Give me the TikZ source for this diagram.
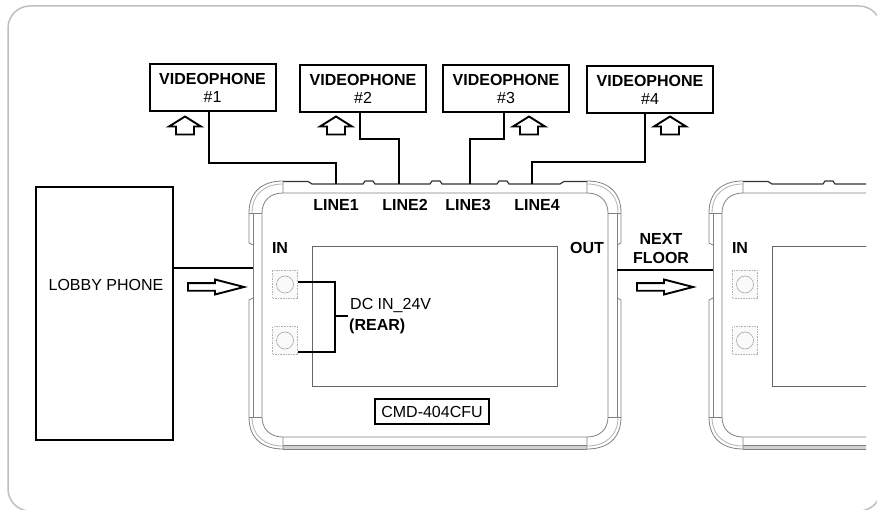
\documentclass[tikz,border=0pt]{standalone}
\usepackage{fontspec}
\setmainfont{Liberation Sans}
\usepackage{tikz}
\tikzset{
  phonebox/.style={shape=rectangle, draw=black, line width=2pt, inner sep=0pt, align=center},
  vidbox/.style={phonebox, minimum width=126pt, minimum height=47pt, font=\fontsize{16}{18}\selectfont},
  boldlabel/.style={inner sep=0pt, align=center, font=\fontsize{16}{19}\selectfont\bfseries},
  plainlabel/.style={inner sep=0pt, font=\fontsize{16}{19}\selectfont},
  wireline/.style={draw=black, line width=2pt},
  thinwire/.style={draw=black, line width=1.2pt},
  bodyline/.style={draw=black!50, line width=0.8pt},
  jackbox/.style={shape=rectangle, draw=black!30, densely dotted, line width=1.6pt, fill=black!2, inner sep=0pt, minimum width=25pt, minimum height=28pt},
  uparrow/.pic={\draw[line width=1.9pt, fill=white] (0,0) -- (16,10) -- (9,10) -- (9,18) -- (-9,18) -- (-9,10) -- (-16,10) -- cycle;},
  rightarrow/.pic={\draw[line width=1.9pt, fill=white] (0,-3.8) -- (27,-3.8) -- (27,-7.5) -- (56,0) -- (27,7.5) -- (27,3.8) -- (0,3.8) -- cycle;},
  cmdunit/.pic={
    \fill[black!18] (283,445) rectangle (587,449);
    \draw[bodyline] (283,445) -- (587,445) (283,449) -- (587,449);
    \draw[draw=black!80, line width=1.2pt] (283,181.5) -- (308,181.5) -- (312,184) -- (363,184) -- (365,181) -- (373,181) -- (375,184)
      -- (430,184) -- (432,181) -- (440,181) -- (442,184) -- (497,184) -- (499,181) -- (507,181) -- (509,184) -- (560,184) -- (564,181.5) -- (587,181.5);
    \foreach \sx/\sy in {1/1,-1/1,1/-1,-1/-1}{
      \begin{scope}[shift={(435,315)}, xscale=\sx, yscale=\sy]
        \draw[bodyline] (-186,-102) .. controls (-186,-123) and (-173,-134) .. (-152,-134) -- (-152,-122);
        \draw[bodyline, draw=black!30] (-183,-102) .. controls (-183,-121) and (-170,-131) .. (-152,-131);
        \draw[bodyline] (-173,0) -- (-173,-102) .. controls (-173,-114) and (-165,-122) .. (-152,-122) -- (0,-122);
        \draw[bodyline] (-186,-102) -- (-173,-102);
        \draw[bodyline] (-182,-102) -- (-182,0);
      \end{scope}
    }
    \foreach \sx in {1,-1}{
      \begin{scope}[shift={(435,315)}, xscale=\sx]
        \draw[bodyline] (-186,-102) -- (-186,-72) -- (-182,-70);
        \draw[bodyline] (-182,-17) -- (-186,-15) -- (-186,102);
      \end{scope}
    }
    \node[shape=rectangle, draw=black!60, line width=0.9pt, inner sep=0pt, minimum width=245pt, minimum height=140pt](screen) at (434.5, 316){};
    \node[jackbox](jackA) at (285, 284.5){};
    \node[jackbox](jackB) at (285, 340.5){};
    \draw[black!35, line width=0.6pt] (285, 284.5) circle (8.5);
    \draw[black!35, line width=0.6pt] (285, 340.5) circle (8.5);
    \node[boldlabel](inlabel) at (280, 248){IN};
  },
}

\begin{document}
\begin{tikzpicture}[x=1pt, y=-1pt]
    % Paths, nodes and wires:
    \useasboundingbox (0, 0) rectangle (877, 510);
    \draw[draw=black!25, line width=1.5pt, rounded corners=22pt] (8, 6) rectangle (881, 511);

    \node[vidbox](vp1) at (212.5, 88){\textbf{VIDEOPHONE}\\\#1};
    \node[vidbox](vp2) at (363, 89){\textbf{VIDEOPHONE}\\\#2};
    \node[vidbox](vp3) at (506, 89){\textbf{VIDEOPHONE}\\\#3};
    \node[vidbox](vp4) at (650, 89.5){\textbf{VIDEOPHONE}\\\#4};
    \pic at (185, 116.5) {uparrow};
    \pic at (336, 116.5) {uparrow};
    \pic at (529, 116.5) {uparrow};
    \pic at (670, 116.5) {uparrow};

    \node[phonebox, minimum width=136.5pt, minimum height=253pt](lobby) at (104.25, 313.5){};
    \node[plainlabel](lobbytext) at (106, 285){LOBBY PHONE};

    \pic (unitA) at (0, 0) {cmdunit};
    \begin{scope}
      \clip (700, 170) rectangle (866, 460);
      \pic (unitB) at (460, 0) {cmdunit};
    \end{scope}

    \node[boldlabel](line1) at (336, 205){LINE1};
    \node[boldlabel](line2) at (405, 205){LINE2};
    \node[boldlabel](line3) at (468, 205){LINE3};
    \node[boldlabel](line4) at (537, 205){LINE4};
    \node[boldlabel](outlabel) at (587, 248){OUT};
    \node[boldlabel](nextfloor) at (661, 248.5){NEXT\\FLOOR};
    \node[plainlabel, anchor=west](dcin) at (350, 306){DC IN\_24V};
    \node[boldlabel, anchor=west](rear) at (349, 326){(REAR)};
    \node[shape=rectangle, draw=black, line width=2.4pt, inner sep=0pt, minimum width=114pt, minimum height=25pt, font=\fontsize{16}{19}\selectfont](model) at (432, 411.5){CMD-404CFU};

    \coordinate (tap1) at (209, 112);
    \coordinate (tap2) at (360, 113);
    \coordinate (tap3) at (504, 113);
    \coordinate (tap4) at (645, 114);
    \coordinate (port1) at (335.5, 184);
    \coordinate (port2) at (399, 184);
    \coordinate (port3) at (470, 184);
    \coordinate (port4) at (532, 184);
    \draw[wireline] (tap1) -- ++(0, 51) -| (port1);
    \draw[wireline] (tap2) -- ++(0, 26) -| (port2);
    \draw[wireline] (tap3) -- ++(0, 26) -| (port3);
    \draw[wireline] (tap4) -- ++(0, 48) -| (port4);

    \coordinate (bodyin) at (253, 268.5);
    \coordinate (bodyout) at (617, 270);
    \coordinate (nextin) at (713, 270);
    \draw[wireline] (lobby.east |- bodyin) -- (bodyin);
    \draw[wireline] (bodyout) -- (nextin);
    \pic at (188, 287) {rightarrow};
    \pic at (637, 287) {rightarrow};

    \coordinate (dcA) at (unitAjackA.east |- 0, 282);
    \coordinate (dcB) at (unitAjackB.east |- 0, 352);
    \coordinate (dcM) at (335, 316);
    \coordinate (dcT) at (348, 316);
    \draw[thinwire] (dcA) -| (dcM) |- (dcB);
    \draw[thinwire] (dcM) -- (dcT);
\end{tikzpicture}
\end{document}
